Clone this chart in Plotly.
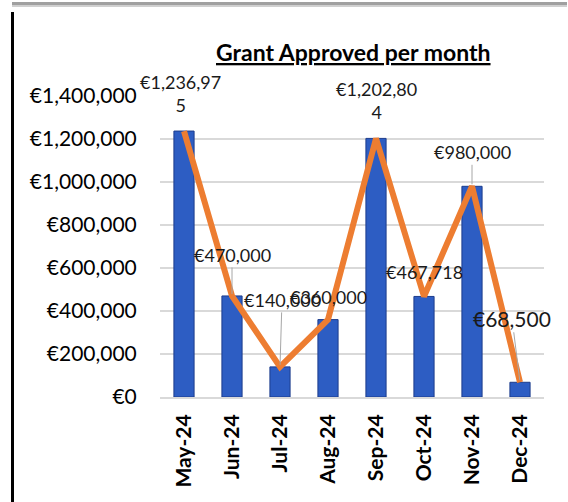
import plotly.graph_objects as go

months = ["May-24", "Jun-24", "Jul-24", "Aug-24", "Sep-24", "Oct-24", "Nov-24", "Dec-24"]
grant_approved = [1236975, 470000, 140000, 360000, 1202804, 467718, 980000, 68500]
y_ticks = [0, 200000, 400000, 600000, 800000, 1000000, 1200000, 1400000]
y_tick_labels = ["€0", "€200,000", "€400,000", "€600,000", "€800,000",
                 "€1,000,000", "€1,200,000", "€1,400,000"]
title_text = "Grant Approved per month"

# label offsets (pixels) and leader-line flags — styling only
label_style = [
    dict(ax=-4, ay=-38, arrow=False, size=18),
    dict(ax=0, ay=-41, arrow=True, size=18),
    dict(ax=2, ay=-67, arrow=True, size=18),
    dict(ax=0, ay=-23, arrow=False, size=18),
    dict(ax=0, ay=-38, arrow=False, size=18),
    dict(ax=0, ay=-24, arrow=False, size=18),
    dict(ax=0, ay=-34, arrow=True, size=18),
    dict(ax=-8, ay=-64, arrow=True, size=21),
]

def fmt_label(v):
    s = f"€{v:,}"
    if len(s) > 9:
        s = s[:9] + "<br>" + s[9:]
    return s

W, H = 568, 502
L, R, T, B = 160, 24, 96, 105
PW, PH = W - L - R, H - T - B

def px_x(x):
    return (x - L) / PW

def px_y(y):
    return (H - B - y) / PH

FONT = "Lato"

fig = go.Figure()
fig.add_trace(go.Bar(
    x=months, y=grant_approved,
    marker=dict(color="#2D5DC3", line=dict(color="#1C3C8C", width=1)),
    width=0.42, showlegend=False, hoverinfo="skip",
))
fig.add_trace(go.Scatter(
    x=months, y=grant_approved, mode="lines",
    line=dict(color="#ED7D31", width=6), showlegend=False, hoverinfo="skip",
))

for m, v, st in zip(months, grant_approved, label_style):
    fig.add_annotation(
        x=m, y=v, text=fmt_label(v), xref="x", yref="y",
        showarrow=True, ax=st["ax"], ay=st["ay"],
        arrowhead=0, arrowwidth=1,
        arrowcolor="#A6A6A6" if st["arrow"] else "rgba(0,0,0,0)",
        standoff=2,
        font=dict(family=FONT, size=st["size"], color="#1a1a1a"),
    )

fig.add_annotation(
    x=px_x(353.5), y=px_y(52), xref="paper", yref="paper",
    text=f"<b><u>{title_text}</u></b>", showarrow=False,
    font=dict(family=FONT, size=23, color="#000000"),
    xanchor="center", yanchor="middle",
)

# decorative frame lines (drawn in segments)
for a, b in [(12, 300), (300, 544), (544, 567)]:
    fig.add_shape(type="rect", xref="paper", yref="paper",
                  x0=px_x(a), x1=px_x(b), y0=px_y(5.5), y1=px_y(2),
                  fillcolor="#A0A0A0", line=dict(width=0), layer="above")
    fig.add_shape(type="rect", xref="paper", yref="paper",
                  x0=px_x(a), x1=px_x(b), y0=px_y(7), y1=px_y(5.5),
                  fillcolor="#D0D0D0", line=dict(width=0), layer="above")
fig.add_shape(type="line", xref="paper", yref="paper",
              x0=px_x(12.5), x1=px_x(12.5), y0=px_y(12), y1=px_y(502),
              line=dict(color="#000000", width=3), layer="above")

fig.update_layout(
    width=W, height=H,
    margin=dict(l=L, r=R, t=T, b=B, autoexpand=False),
    paper_bgcolor="white", plot_bgcolor="white",
    xaxis=dict(
        type="category", range=[-0.5, 7.5],
        tickangle=-90, tickfont=dict(family=FONT, size=21, color="#000000", weight="bold"),
        showgrid=False, showline=True, linecolor="#D9D9D9", linewidth=2,
        ticks="outside", ticklen=7, tickcolor="rgba(0,0,0,0)",
        automargin=False, fixedrange=True,
    ),
    yaxis=dict(
        range=[0, 1400000], tickmode="array", tickvals=y_ticks, ticktext=y_tick_labels,
        tickfont=dict(family=FONT, size=21, color="#000000"),
        showgrid=True, gridcolor="#D9D9D9", gridwidth=1.5,
        zeroline=False, showline=False,
        ticks="outside", ticklen=18, tickcolor="rgba(0,0,0,0)",
        automargin=False, fixedrange=True,
    ),
)

fig.write_html("out.html", config={"displayModeBar": False, "staticPlot": True},
               post_script="document.body.style.margin='0';")
